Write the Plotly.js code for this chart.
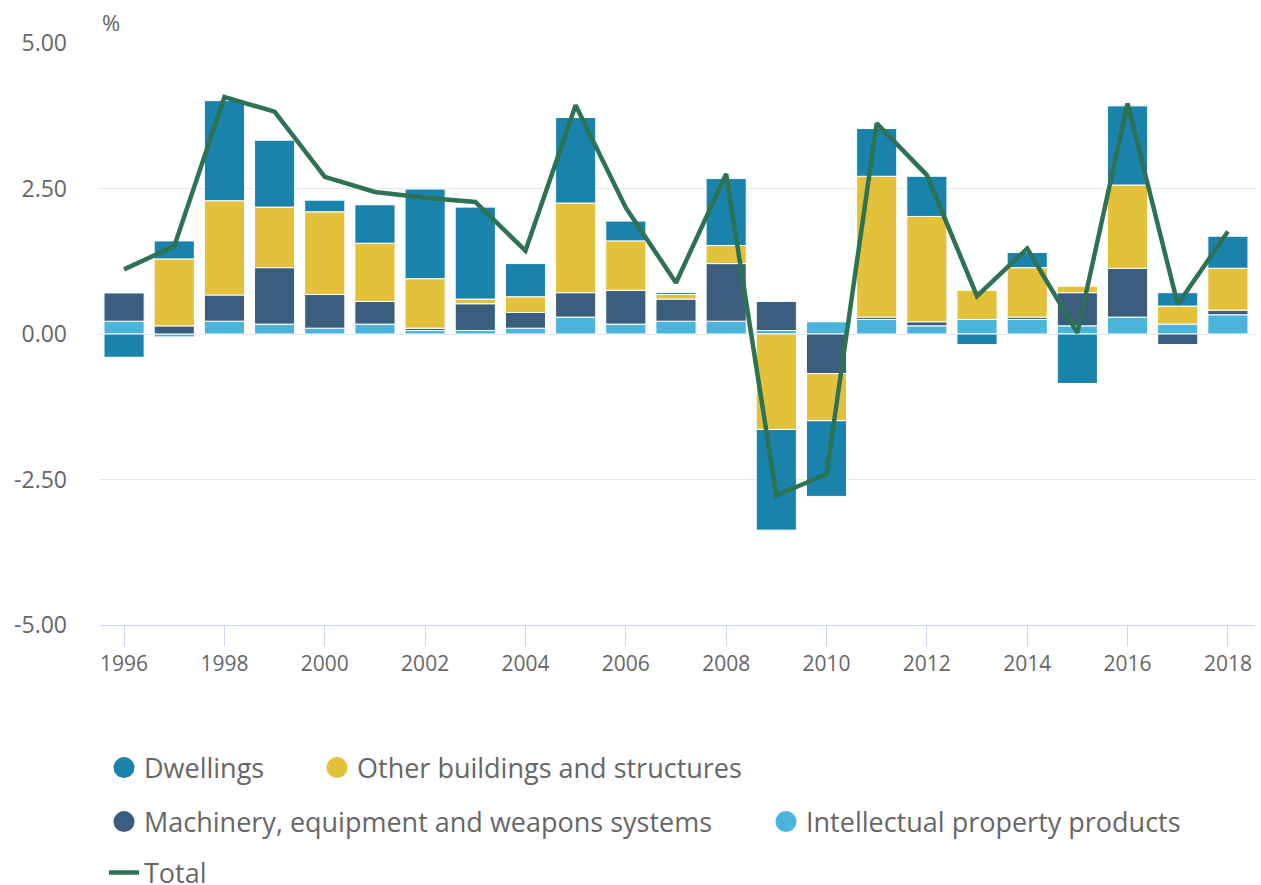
<!DOCTYPE html>
<html>
<head>
<meta charset="utf-8">
<script src="https://cdn.plot.ly/plotly-3.0.1.min.js"></script>
<style>html,body{margin:0;padding:0;background:#fff;overflow:hidden;}#chart{width:1261px;height:885px;}</style>
</head>
<body>
<div id="chart"></div>
<script>
const years = [1996,1997,1998,1999,2000,2001,2002,2003,2004,2005,2006,2007,2008,2009,2010,2011,2012,2013,2014,2015,2016,2017,2018];
const ipp       = [0.22,-0.05,0.22,0.17,0.10,0.17,0.06,0.06,0.10,0.29,0.17,0.22,0.22,0.06,0.21,0.25,0.14,0.25,0.25,0.14,0.29,0.17,0.33];
const machinery = [0.49,0.14,0.45,0.97,0.58,0.39,0.04,0.46,0.27,0.42,0.58,0.38,0.99,0.50,-0.68,0.04,0.07,0.00,0.04,0.57,0.84,-0.18,0.08];
const otherBuildings = [0.00,1.15,1.62,1.04,1.42,1.00,0.85,0.08,0.27,1.54,0.85,0.08,0.31,-1.64,-0.81,2.42,1.81,0.50,0.85,0.11,1.43,0.31,0.72];
const dwellings = [-0.40,0.31,1.72,1.15,0.20,0.66,1.54,1.58,0.57,1.47,0.34,0.035,1.15,-1.73,-1.30,0.82,0.69,-0.18,0.26,-0.85,1.36,0.23,0.55];
const total     = [1.11,1.51,4.07,3.82,2.70,2.44,2.34,2.27,1.43,3.93,2.17,0.88,2.75,-2.77,-2.41,3.62,2.73,0.65,1.47,0.02,3.96,0.51,1.76];

const names = ["Dwellings","Other buildings and structures","Machinery, equipment and weapons systems","Intellectual property products","Total"];
const colors = {dw:"#1a83ab", ot:"#e3c13a", ma:"#3b5e7e", ip:"#4ab4dc", tot:"#2e7254"};
const yTickVals = [-5,-2.5,0,2.5,5];
const yTickText = ["-5.00","-2.50","0.00","2.50","5.00"];
const xTickVals = [1996,1998,2000,2002,2004,2006,2008,2010,2012,2014,2016,2018];

function legendDot(name, color, leg){
  return {type:"scatter", mode:"markers", x:[null], y:[null], name:name, legend:leg,
    marker:{color:color, size:16, symbol:"circle", line:{color:color, width:5}}, hoverinfo:"skip"};
}
function barTrace(vals, name, color){
  return {type:"bar", x:years, y:vals, name:name, showlegend:false, width:0.8,
    marker:{color:color, line:{color:"#ffffff", width:1}}};
}

const data = [
  legendDot(names[0], colors.dw, "legend"),
  legendDot(names[1], colors.ot, "legend2"),
  legendDot(names[2], colors.ma, "legend3"),
  legendDot(names[3], colors.ip, "legend4"),
  barTrace(ipp, names[3], colors.ip),
  barTrace(machinery, names[2], colors.ma),
  barTrace(otherBuildings, names[1], colors.ot),
  barTrace(dwellings, names[0], colors.dw),
  {type:"scatter", mode:"lines", x:years, y:total, name:names[4], legend:"legend5",
   line:{color:colors.tot, width:4.5}}
];

const legFont = {size:27, color:"#666666", family:"Open Sans, sans-serif"};
function legendBox(xl, yc){
  return {orientation:"h", xref:"container", x:xl/1261, xanchor:"left", yref:"container", y:1-yc/885, yanchor:"middle",
    font:legFont, itemwidth:30, bgcolor:"rgba(0,0,0,0)"};
}

const layout = {
  width:1261, height:885,
  margin:{l:100, r:6, t:43, b:260, autoexpand:false},
  paper_bgcolor:"#fff", plot_bgcolor:"#fff",
  barmode:"relative",
  font:{family:"Open Sans, sans-serif", color:"#666666"},
  showlegend:true,
  xaxis:{range:[1995.52,2018.54], tickvals:xTickVals, ticks:"outside", ticklen:20, tickcolor:"#ccd6eb",
    tickwidth:1, showgrid:false, zeroline:false, showline:true, linecolor:"#ccd6eb", linewidth:1,
    tickfont:{size:21, color:"#666666"}, fixedrange:true},
  yaxis:{range:[-5,5], tickvals:yTickVals, ticktext:yTickText, showgrid:true, gridcolor:"#e6e6e6", gridwidth:1,
    zeroline:false, showline:false, ticks:"", ticklabelstandoff:32,
    tickfont:{size:23, color:"#666666"}, fixedrange:true},
  legend: legendBox(104, 768),
  legend2: legendBox(317, 768),
  legend3: legendBox(104, 822),
  legend4: legendBox(766, 822),
  legend5: legendBox(104, 873),
  annotations:[{xref:"paper", yref:"paper", x:0, y:1.036, xanchor:"left", yanchor:"middle",
    text:"%", showarrow:false, font:{size:22, color:"#666666"}}]
};

Plotly.newPlot("chart", data, layout, {displayModeBar:false, staticPlot:true});
</script>
</body>
</html>
